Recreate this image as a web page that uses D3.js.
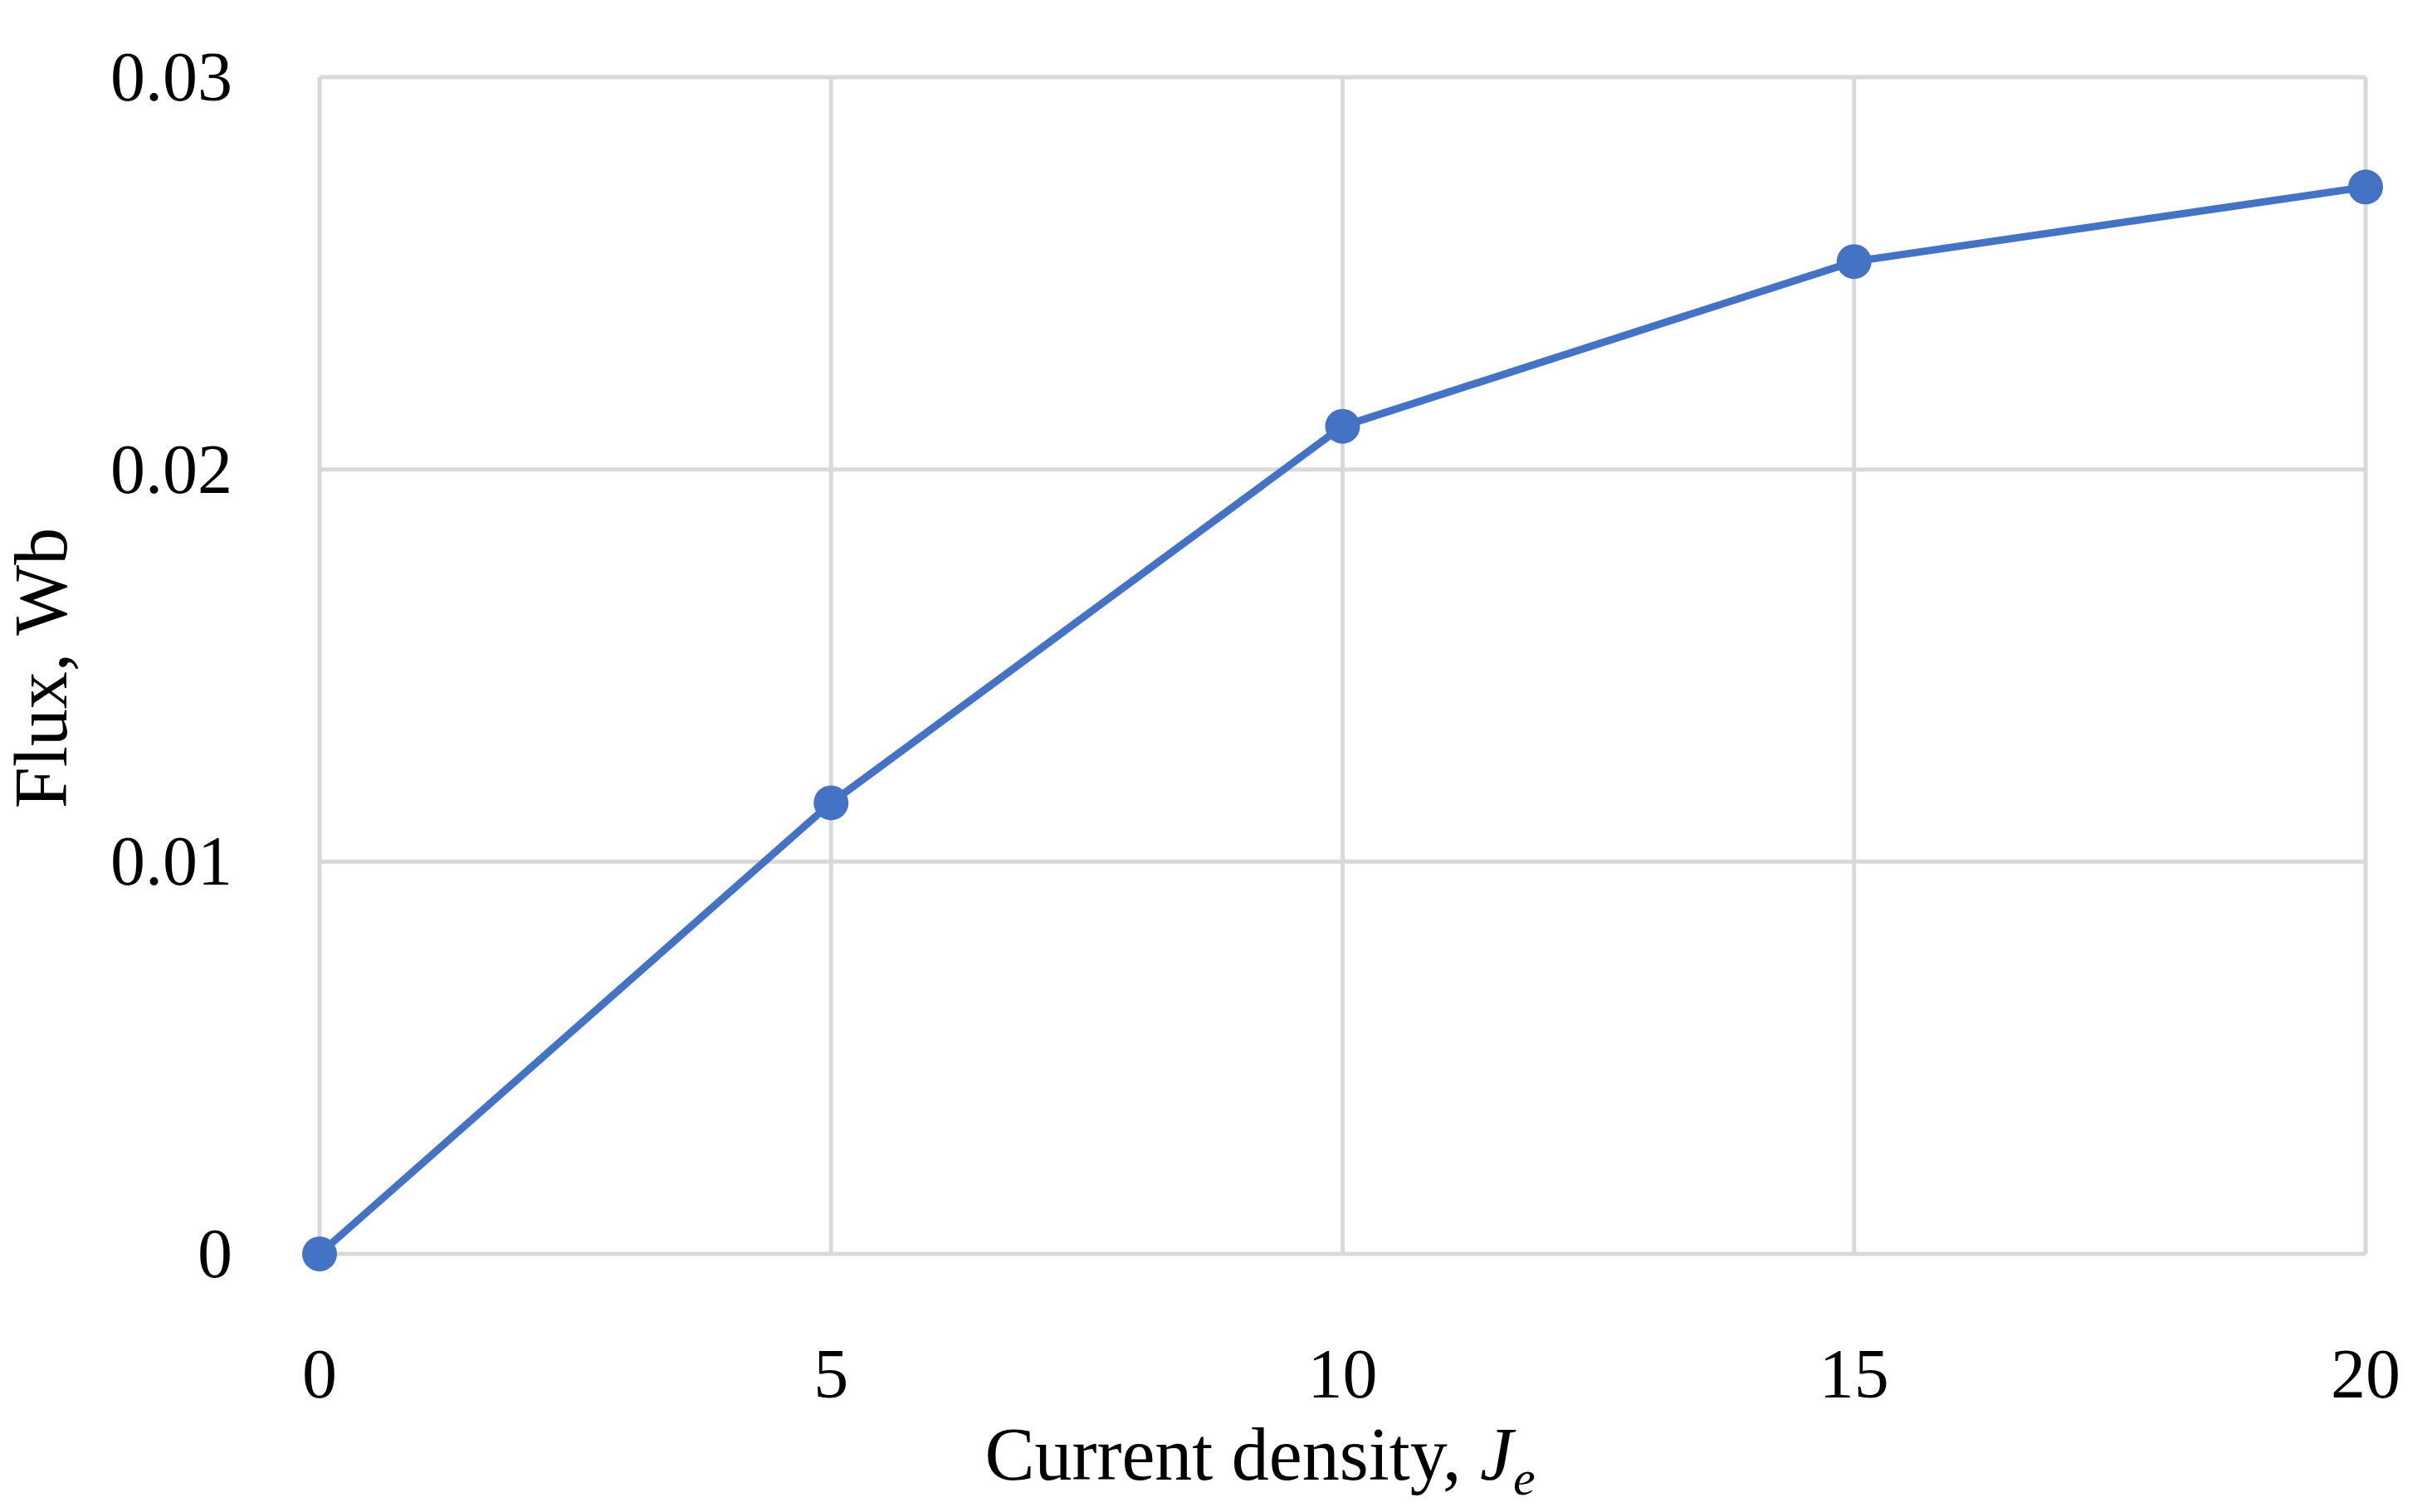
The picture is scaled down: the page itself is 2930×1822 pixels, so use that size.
<!DOCTYPE html>
<html lang="en">
<head>
  <meta charset="UTF-8">
  <title>Flux vs current density</title>
  <style>
  body { margin: 0; background: #fff; }
  text { font-family: "Liberation Serif", "DejaVu Serif", serif; fill: #000; }
  </style>
</head>
<body>
  <svg id="chart" width="2930" height="1822"></svg>
  <script src="https://cdn.jsdelivr.net/npm/d3@7"></script>
  <script>
    var currentDensity = [0, 5, 10, 15, 20]
    var flux = [0, 0.0115, 0.0211, 0.0253, 0.0272]
    var xTicks = [0, 5, 10, 15, 20]
    var yTicks = [0, 0.01, 0.02, 0.03]

    var svg = d3.select('#chart')
    var pLeft = 385, pRight = 2850, pTop = 93, pBottom = 1511

    var x = d3.scaleLinear().domain([0, 20]).range([pLeft, pRight])
    var y = d3.scaleLinear().domain([0, 0.03]).range([pBottom, pTop])

    // gridlines
    svg.selectAll('.hgrid').data(yTicks).enter().append('line')
      .attr('x1', pLeft).attr('x2', pRight)
      .attr('y1', d => y(d)).attr('y2', d => y(d))
      .attr('stroke', '#d9d9d9').attr('stroke-width', 5)
    svg.selectAll('.vgrid').data(xTicks).enter().append('line')
      .attr('x1', d => x(d)).attr('x2', d => x(d))
      .attr('y1', pTop).attr('y2', pBottom)
      .attr('stroke', '#d9d9d9').attr('stroke-width', 5)

    // tick labels
    svg.selectAll('.ylab').data(yTicks).enter().append('text')
      .attr('x', 280).attr('y', d => y(d) + 28)
      .attr('text-anchor', 'end').attr('font-size', 84)
      .text(d => d === 0 ? '0' : d3.format('.2f')(d))
    svg.selectAll('.xlab').data(xTicks).enter().append('text')
      .attr('x', d => x(d)).attr('y', 1684)
      .attr('text-anchor', 'middle').attr('font-size', 84)
      .text(d => d)

    // axis titles
    var xt = svg.append('text').attr('x', 1518).attr('y', 1783)
      .attr('text-anchor', 'middle').attr('font-size', 90)
    xt.append('tspan').text('Current density, ')
    xt.append('tspan').attr('font-style', 'italic').text('J')
    xt.append('tspan').attr('font-style', 'italic').attr('font-size', 60).attr('dy', 18).text('e')

    svg.append('text')
      .attr('transform', 'translate(80,' + 805 + ') rotate(-90)')
      .attr('text-anchor', 'middle').attr('font-size', 90)
      .text('Flux, Wb')

    var pts = currentDensity.map((d, i) => [d, flux[i]])
    svg.append('path').datum(pts)
      .attr('fill', 'none').attr('stroke', '#4472C4').attr('stroke-width', 9)
      .attr('d', d3.line().x(d => x(d[0])).y(d => y(d[1])))
    svg.selectAll('.pt').data(pts).enter().append('circle')
      .attr('cx', d => x(d[0])).attr('cy', d => y(d[1])).attr('r', 21)
      .attr('fill', '#4472C4')
  </script>
</body>
</html>
